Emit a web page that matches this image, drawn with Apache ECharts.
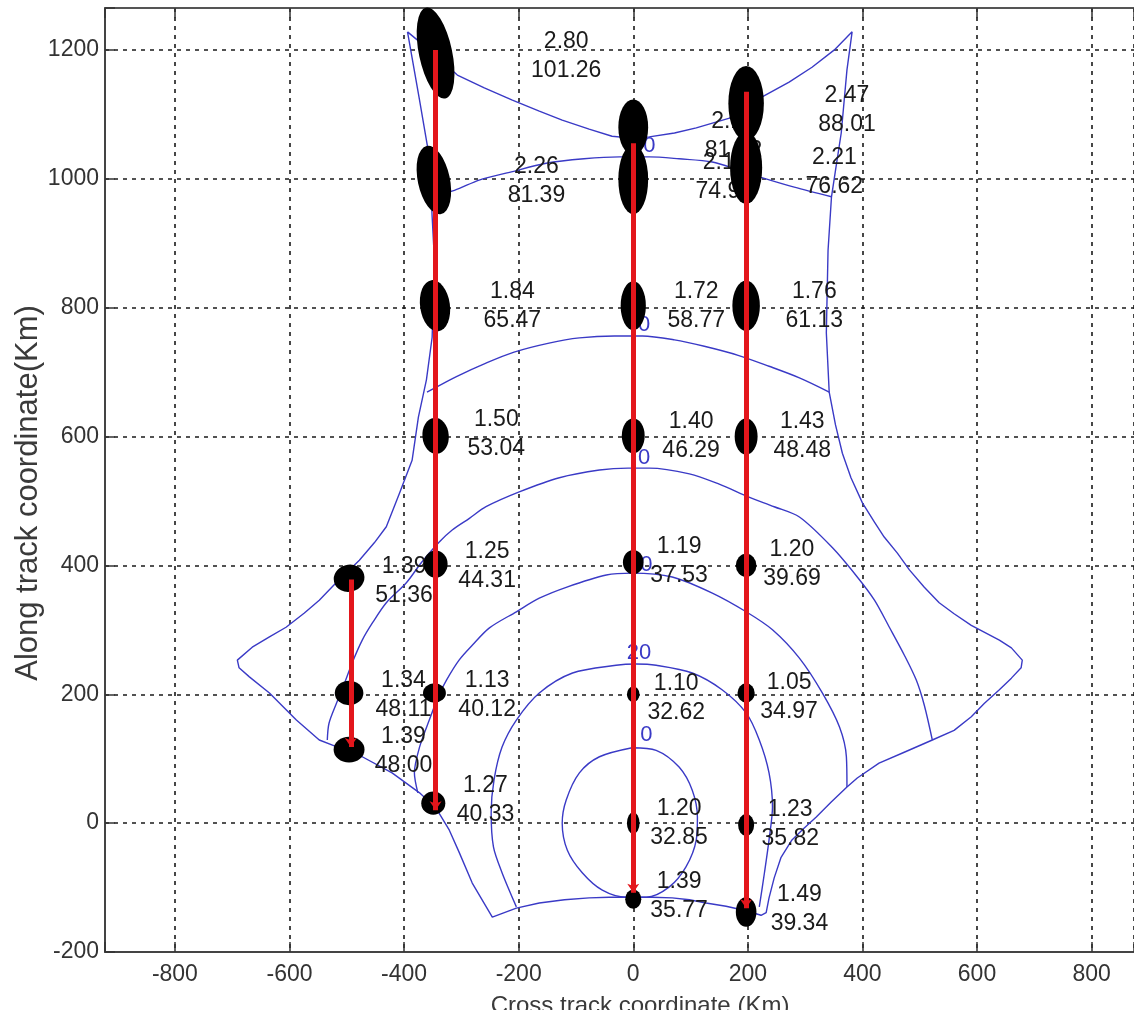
<!DOCTYPE html>
<html lang="en">
<head>
  <meta charset="UTF-8">
  <title>Along / cross track error ellipses</title>
  <style>
    html, body { margin: 0; padding: 0; background: #fff; }
    #chart { width: 1134px; height: 1010px; }
  </style>
</head>
<body>
  <div id="chart"></div>
  <script src="https://cdn.jsdelivr.net/npm/echarts@6/dist/echarts.min.js"></script>
  <script>
    var FONT = '"Liberation Sans", Arial, sans-serif';

    // axis ranges (km)
    var xRange = [-922, 874];
    var yRange = [-200, 1265];

    // red tracks: [x, y start, y end]
    var tracks = [[-493, 378, 118], [-345, 1200, 20], [0, 1055, -108], [197, 1135, -132]];

    // error ellipses: [x, y, semi-axis x (km), semi-axis y (km), tilt deg]
    var ellipsesA = [[-496, 380, 27, 21, 15], [-496, 202, 25, 19, 0], [-496, 114, 27, 20, 0]];
    var ellipsesB = [[-345, 1195, 29, 72, 12], [-348, 998, 28, 54, 12], [-346, 803, 26, 40, 8],
      [-345, 601, 23, 28, 5], [-345, 402, 21, 21, 0], [-347, 202, 20, 15, 0], [-349, 31, 21, 18, 0]];
    var ellipsesC = [[0, 1080, 26, 43, 0], [0, 999, 26, 54, 0], [0, 803, 22, 38, 0], [0, 601, 20, 27, 0],
      [0, 405, 18, 19, 0], [0, 200, 11, 12, 0], [0, 0, 11, 17, 0], [0, -118, 14, 15, 0]];
    var ellipsesD = [[197, 1117, 31, 58, 0], [197, 1017, 28, 56, 0], [197, 803, 24, 39, 0], [197, 600, 20, 28, 0],
      [197, 400, 18, 18, 0], [197, 202, 15, 15, 0], [197, -3, 14, 17, 0], [197, -138, 18, 23, 0]];

    // value labels: [x, y, line 1, line 2]
    var labelsA = [[-400, 376, '1.39', '51.36'], [-401, 199, '1.34', '48.11'], [-401, 112, '1.39', '48.00']];
    var labelsB = [[-117, 1190, '2.80', '101.26'], [-169, 997, '2.26', '81.39'], [-211, 802, '1.84', '65.47'],
      [-239, 603, '1.50', '53.04'], [-255, 399, '1.25', '44.31'], [-255, 199, '1.13', '40.12'], [-258, 36, '1.27', '40.33']];
    var labelsC = [[175, 1066, '2.19', '81.72'], [159, 1003, '2.11', '74.98'], [110, 802, '1.72', '58.77'],
      [101, 601, '1.40', '46.29'], [80, 406, '1.19', '37.53'], [75, 194, '1.10', '32.62'], [80, 0, '1.20', '32.85'],
      [80, -113, '1.39', '35.77']];
    var labelsD = [[373, 1106, '2.47', '88.01'], [351, 1011, '2.21', '76.62'], [316, 802, '1.76', '61.13'],
      [295, 601, '1.43', '48.48'], [277, 402, '1.20', '39.69'], [272, 196, '1.05', '34.97'], [274, -1, '1.23', '35.82'],
      [290, -133, '1.49', '39.34']];

    // coverage boundary and contour lines (km)
    var boundary = [[-394, 1228], [-356, 1200], [-307, 1161], [-260, 1141], [-211, 1122], [-164, 1105], [-124, 1091],
      [-77, 1077], [-37, 1066], [-3, 1063], [28, 1065], [72, 1071], [110, 1079], [168, 1094], [225, 1127], [272, 1150],
      [312, 1173], [351, 1200], [382, 1228], [373, 1169], [363, 1071], [353, 1013], [346, 972], [340, 889], [337, 761],
      [342, 669], [353, 618], [365, 574], [380, 536], [400, 497], [421, 467], [438, 444], [461, 419], [482, 393],
      [508, 366], [534, 342], [560, 325], [590, 307], [639, 284], [660, 272], [679, 253], [677, 241], [660, 225],
      [639, 207], [613, 186], [590, 165], [560, 144], [522, 129], [473, 110], [429, 93], [391, 70], [373, 56],
      [346, 33], [319, 9], [298, -8], [277, -26], [258, -53], [246, -85], [237, -116], [232, -139], [223, -143],
      [197, -136], [162, -129], [127, -124], [98, -119], [68, -116], [33, -115], [-2, -115], [-42, -115], [-77, -116],
      [-120, -119], [-164, -124], [-204, -132], [-246, -146], [-281, -93], [-304, -45], [-321, -11], [-344, 23],
      [-373, 47], [-421, 78], [-473, 103], [-525, 121], [-548, 129], [-588, 160], [-635, 202], [-670, 227],
      [-688, 241], [-691, 253], [-665, 273], [-635, 289], [-606, 304], [-574, 326], [-548, 346], [-522, 370],
      [-501, 388], [-478, 408], [-452, 435], [-431, 460], [-408, 512], [-386, 563], [-375, 630], [-361, 688],
      [-351, 754], [-349, 812], [-347, 874], [-351, 941], [-356, 1034], [-373, 1122], [-394, 1228]];
    var contour1 = [[-347, 975], [-312, 982], [-269, 998], [-216, 1010], [-152, 1024], [-86, 1031], [-24, 1034],
      [28, 1034], [80, 1031], [138, 1026], [185, 1013], [220, 1003], [281, 987], [346, 972]];
    var contour2 = [[-360, 669], [-304, 695], [-257, 714], [-208, 731], [-147, 745], [-94, 753], [-33, 756],
      [16, 756], [72, 750], [124, 740], [183, 726], [237, 709], [290, 691], [342, 669]];
    var contour3 = [[-534, 129], [-531, 155], [-518, 186], [-504, 217], [-490, 250], [-473, 284], [-455, 311],
      [-431, 342], [-396, 373], [-370, 404], [-339, 436], [-316, 455], [-286, 473], [-257, 491], [-199, 514],
      [-129, 536], [-59, 548], [-9, 551], [28, 551], [98, 542], [150, 526], [202, 506], [246, 491], [290, 475],
      [347, 428], [391, 382], [421, 346], [447, 304], [473, 261], [494, 222], [508, 183], [522, 129]];
    var contour4 = [[-376, 47], [-382, 78], [-373, 118], [-356, 160], [-339, 199], [-326, 222], [-304, 253],
      [-281, 276], [-251, 303], [-204, 328], [-164, 349], [-117, 366], [-47, 385], [-2, 388], [68, 382], [138, 357],
      [197, 328], [243, 300], [290, 256], [330, 202], [360, 149], [372, 103], [373, 56]];
    var contour5 = [[-204, -130], [-229, -77], [-244, -37], [-248, 16], [-243, 67], [-229, 118], [-204, 160],
      [-164, 202], [-106, 233], [-30, 245], [5, 247], [40, 245], [103, 233], [155, 207], [197, 171], [220, 129],
      [237, 78], [243, 25], [237, -26], [229, -77], [220, -130]];
    var contour6 = [[-2, 117], [40, 113], [80, 87], [103, 51], [112, 9], [110, -26], [92, -68], [63, -99],
      [23, -115], [-12, -115], [-54, -104], [-89, -77], [-115, -42], [-124, 0], [-117, 36], [-94, 78], [-59, 103],
      [-2, 117]];
    // contour tags: [x, y, text]
    var contourTags = [[28, 1051, '0'], [19, 773, '0'], [19, 567, '0'], [23, 401, '0'], [10, 264, '20'], [23, 137, '0']];

    function tickText(v) {
      return v % 200 === 0 ? String(v) : '';
    }

    function contourSeries(points, smooth) {
      return {
        type: 'line', data: points, symbol: 'none', smooth: smooth, z: 2, silent: true,
        lineStyle: { color: '#3a3ac6', width: 1.4 }
      };
    }

    function ellipseSeries(rows) {
      return {
        type: 'custom', z: 4, silent: true,
        data: rows,
        renderItem: function (params, api) {
          var c = api.coord([api.value(0), api.value(1)]);
          var s = api.size([api.value(2), api.value(3)]);
          return {
            type: 'circle',
            x: c[0], y: c[1],
            rotation: api.value(4) * Math.PI / 180,
            scaleX: s[0], scaleY: s[1],
            shape: { cx: 0, cy: 0, r: 1 },
            style: { fill: '#000' }
          };
        }
      };
    }

    function textSeries(rows, color, size, z) {
      return {
        type: 'custom', z: z, silent: true,
        data: rows.map(function (r) { return [r[0], r[1]]; }),
        renderItem: function (params, api) {
          var p = api.coord([api.value(0), api.value(1)]);
          var r = rows[params.dataIndex];
          return {
            type: 'text', x: p[0], y: p[1],
            style: {
              text: r.slice(2).join('\n'),
              font: size + 'px ' + FONT,
              fill: color,
              lineHeight: 29,
              align: 'center', textAlign: 'center',
              verticalAlign: 'middle', textVerticalAlign: 'middle'
            }
          };
        }
      };
    }

    var chart = echarts.init(document.getElementById('chart'));

    var series = [
      contourSeries(boundary, false),
      contourSeries(contour1, 0.3),
      contourSeries(contour2, 0.3),
      contourSeries(contour3, 0.3),
      contourSeries(contour4, 0.3),
      contourSeries(contour5, 0.3),
      contourSeries(contour6, 0.3),
      textSeries(contourTags, '#3a3ac6', 22, 3),
      textSeries(labelsA, '#1a1a1a', 23, 3),
      textSeries(labelsB, '#1a1a1a', 23, 3),
      textSeries(labelsC, '#1a1a1a', 23, 3),
      textSeries(labelsD, '#1a1a1a', 23, 3),
      ellipseSeries(ellipsesA),
      ellipseSeries(ellipsesB),
      ellipseSeries(ellipsesC),
      ellipseSeries(ellipsesD),
      {
        type: 'lines', coordinateSystem: 'cartesian2d', z: 5, silent: true,
        symbol: ['none', 'arrow'], symbolSize: 9,
        lineStyle: { color: '#e3161c', width: 5, opacity: 1 },
        data: tracks.map(function (t) {
          return { coords: [[t[0], t[1]], [t[0], t[2]]] };
        })
      }
    ];

    var option = {
      animation: false,
      backgroundColor: '#fff',
      grid: { left: 105, right: 0, top: 8, bottom: 58, outerBoundsMode: 'none' },
      xAxis: [{
        type: 'value', min: xRange[0], max: xRange[1], splitNumber: 9,
        axisLine: { show: true, onZero: false, lineStyle: { color: '#444', width: 2 } },
        axisTick: { show: true, inside: true, length: 10, lineStyle: { color: '#333', width: 1.5 } },
        axisLabel: { formatter: tickText, fontSize: 23, fontFamily: FONT, color: '#333', margin: 11 },
        splitLine: { show: true, lineStyle: { color: '#1a1a1a', width: 1.6, type: [4, 5] } }
      }, {
        type: 'value', position: 'top', min: xRange[0], max: xRange[1], splitNumber: 9,
        axisLine: { show: true, onZero: false, lineStyle: { color: '#555', width: 2 } },
        axisTick: { show: true, inside: true, length: 10, lineStyle: { color: '#333', width: 1.5 } },
        axisLabel: { show: false },
        splitLine: { show: false }
      }],
      yAxis: {
        type: 'value', min: yRange[0], max: yRange[1], interval: 200,
        axisLine: { show: true, onZero: false, lineStyle: { color: '#444', width: 2 } },
        axisTick: { show: true, inside: true, length: 10, lineStyle: { color: '#333', width: 1.5 } },
        axisLabel: { formatter: tickText, fontSize: 23, fontFamily: FONT, color: '#333', margin: 6 },
        splitLine: { show: true, lineStyle: { color: '#1a1a1a', width: 1.6, type: [4, 5] } }
      },
      graphic: [{
        type: 'text', x: 28, y: 493, rotation: Math.PI / 2, silent: true,
        style: {
          text: 'Along track coordinate(Km)', font: '31px ' + FONT, fill: '#3a3a3a',
          align: 'center', textAlign: 'center', verticalAlign: 'middle', textVerticalAlign: 'middle'
        }
      }, {
        type: 'text', x: 640, y: 1006, silent: true,
        style: {
          text: 'Cross track coordinate (Km)', font: '24px ' + FONT, fill: '#3a3a3a',
          align: 'center', textAlign: 'center', verticalAlign: 'middle', textVerticalAlign: 'middle'
        }
      }],
      series: series
    };

    chart.setOption(option);
  </script>
</body>
</html>
